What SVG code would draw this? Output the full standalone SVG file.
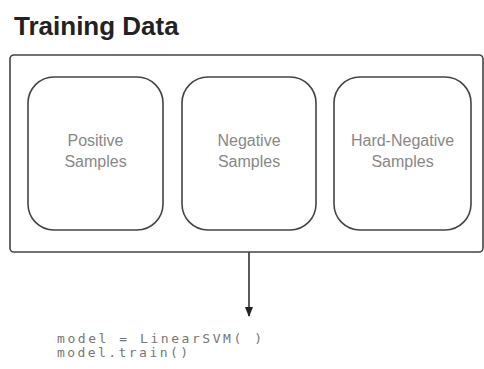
<svg xmlns="http://www.w3.org/2000/svg" width="484" height="369" viewBox="0 0 484 369">
<style>
.title{font-family:"Liberation Sans",Arial,sans-serif;font-weight:bold;font-size:26px;fill:#222}
.box{fill:#fff;stroke:#444;stroke-width:1.6}
.lbl{font-family:"Liberation Sans",Arial,sans-serif;font-size:16px;fill:#888;text-anchor:middle}
.code{font-family:"DejaVu Sans Mono","Liberation Mono",monospace;font-size:13px;fill:#777}
.conn{stroke:#333;stroke-width:1.6;fill:none}
</style>
<defs>
<marker id="ah" markerWidth="10" markerHeight="10" refX="9" refY="5" orient="auto" markerUnits="userSpaceOnUse">
<path d="M0,1 L10,5 L0,9 Z" fill="#222"/>
</marker>
</defs>
<rect width="484" height="369" fill="#fff"/>
<g id="training-data">
<text class="title" x="14" y="35">Training Data</text>
<rect class="box" x="10" y="55" width="473" height="197" rx="4"/>
</g>
<g id="positive">
<rect class="box" x="28" y="77" width="135" height="153" rx="26"/>
<text class="lbl" x="95.5" y="146">Positive</text>
<text class="lbl" x="95.5" y="167">Samples</text>
</g>
<g id="negative">
<rect class="box" x="182" y="77" width="134" height="153" rx="26"/>
<text class="lbl" x="249" y="146">Negative</text>
<text class="lbl" x="249" y="167">Samples</text>
</g>
<g id="hard-negative">
<rect class="box" x="334" y="77" width="137" height="153" rx="26"/>
<text class="lbl" x="402.5" y="146">Hard-Negative</text>
<text class="lbl" x="402.5" y="167">Samples</text>
</g>
<g id="connectors">
<line class="conn" x1="249" y1="252" x2="249" y2="316" marker-end="url(#ah)"/>
</g>
<g id="code">
<text class="code" x="57" y="343" textLength="205" lengthAdjust="spacing">model = LinearSVM( )</text>
<text class="code" x="57" y="357" textLength="131" lengthAdjust="spacing">model.train()</text>
</g>
</svg>
